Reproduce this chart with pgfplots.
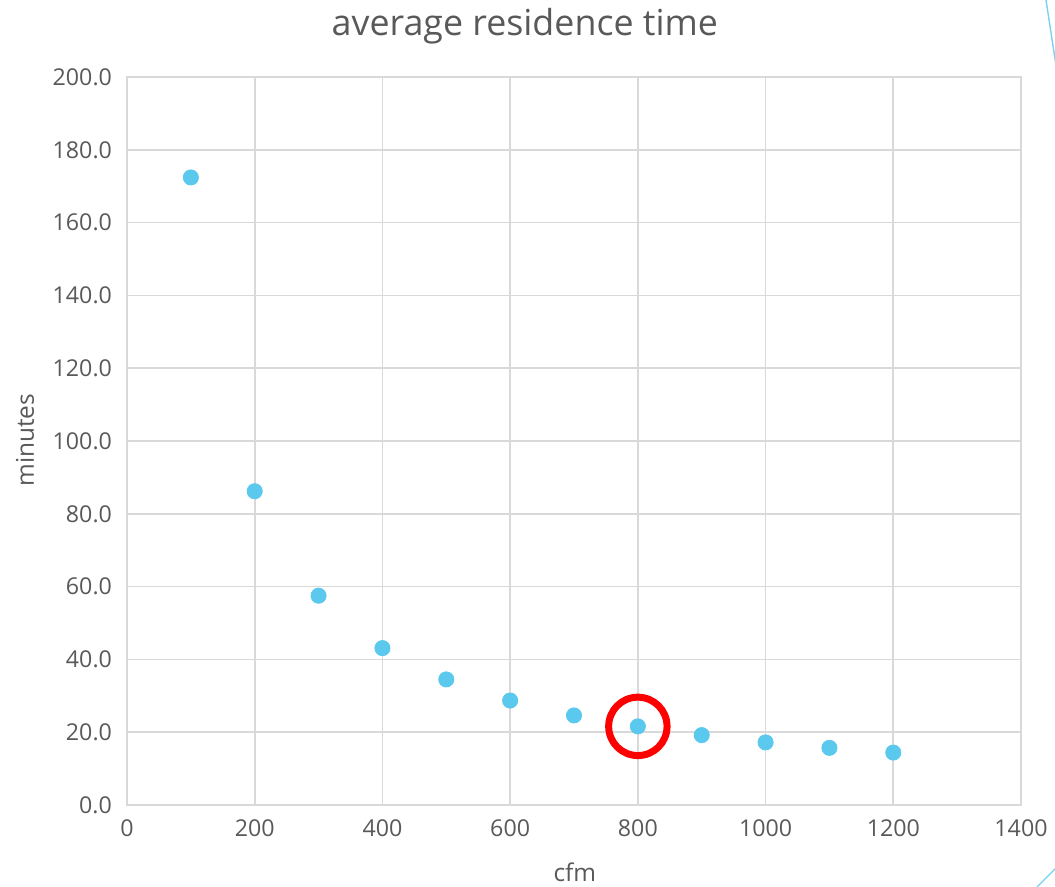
\documentclass[border=0pt]{standalone}
\usepackage{pgfplots}
\pgfplotsset{compat=1.18}
\usepackage{fontspec}
\setmainfont{Open Sans}
\definecolor{dotblue}{RGB}{91,200,238}
\definecolor{txtgray}{RGB}{89,89,89}
\definecolor{gridgray}{RGB}{217,217,217}
\definecolor{decoblue}{RGB}{120,210,240}
\begin{document}
\begin{tikzpicture}
\useasboundingbox (-63.5pt,-41pt) rectangle (464pt,402.5pt);
\begin{axis}[
  at={(0,0)}, anchor=south west,
  scale only axis, width=447pt, height=364pt,
  xmin=0, xmax=1400, ymin=0, ymax=200,
  xtick={0,200,...,1400}, ytick={0,20,...,200},
  grid=major, major grid style={gridgray, line width=0.8pt},
  axis line style={gridgray, line width=0.8pt},
  major tick length=0pt,
  /pgf/number format/assume math mode=true,
  yticklabel style={/pgf/number format/fixed, /pgf/number format/fixed zerofill, /pgf/number format/precision=1, xshift=-4pt},
  xticklabel style={/pgf/number format/fixed, /pgf/number format/1000 sep={}, yshift=-4pt},
  ticklabel style={font=\fontsize{11.6}{13}\selectfont, text=txtgray},
  title={average residence time},
  title style={at={(axis description cs:0.445,1.053)}, anchor=center, font=\fontsize{17.9}{20}\selectfont, text=txtgray},
  xlabel={cfm}, ylabel={minutes},
  label style={font=\fontsize{12.2}{14}\selectfont, text=txtgray},
  xlabel style={at={(axis description cs:0.501,-0.093)}, anchor=center},
  ylabel style={at={(axis description cs:-0.114,0.501)}, anchor=center},
  clip=false,
]
\addplot[only marks, mark=*, mark size=3.8pt, mark options={draw=dotblue, fill=dotblue}]
coordinates {
(100,172.4) (200,86.2) (300,57.5) (400,43.1) (500,34.5) (600,28.7)
(700,24.6) (800,21.6) (900,19.2) (1000,17.2) (1100,15.7) (1200,14.4)
};
\addplot[only marks, mark=o, mark size=14.6pt, red, line width=3.5pt]
coordinates {(800,21.6)};
\end{axis}
\draw[decoblue, line width=0.7pt] (459.5pt,402.5pt) -- (466pt,360pt);
\draw[decoblue, line width=0.7pt] (455pt,-41pt) -- (466pt,-30pt);
\end{tikzpicture}
\end{document}
